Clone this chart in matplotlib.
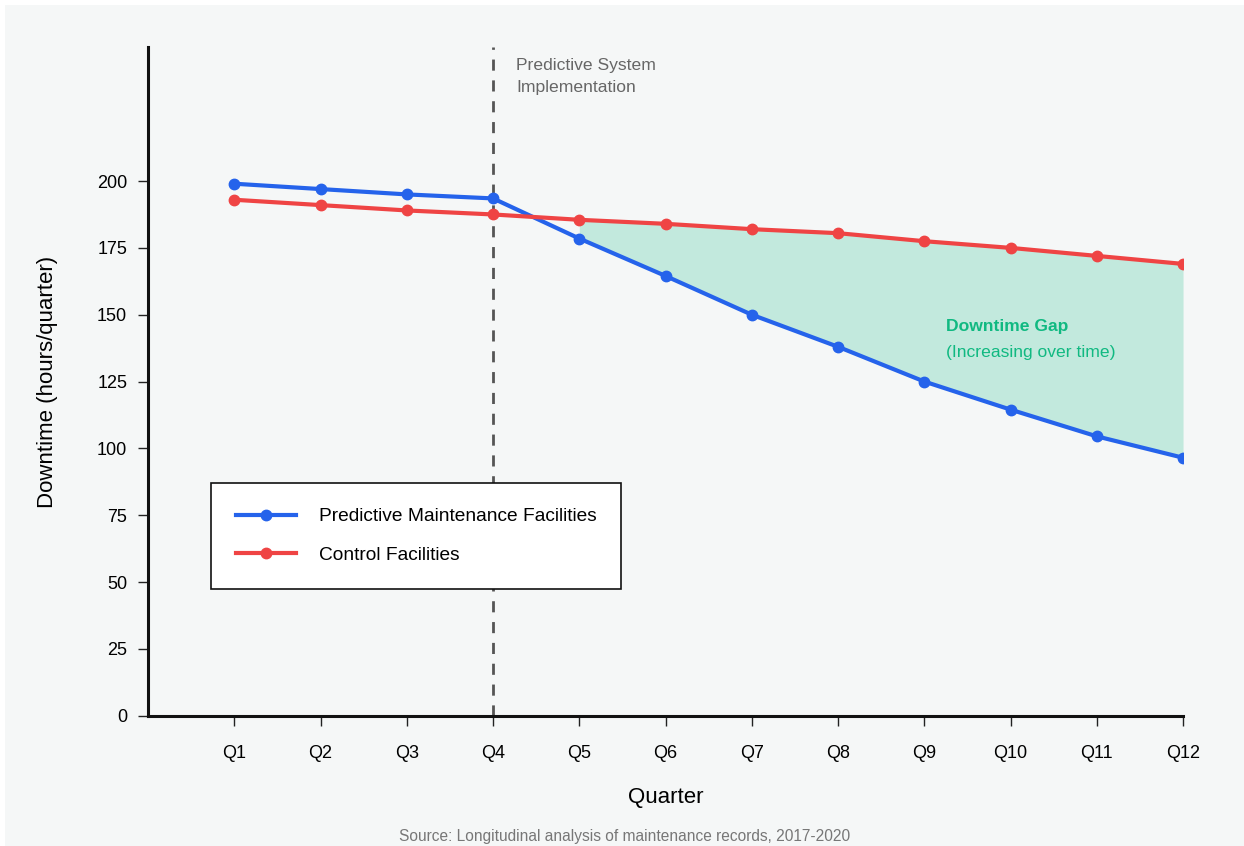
import matplotlib.pyplot as plt
from matplotlib.patches import Rectangle
import numpy as np

plt.rcParams['font.family'] = ['Liberation Sans', 'DejaVu Sans']

# quarterly downtime, hours per quarter
quarters = ['Q1', 'Q2', 'Q3', 'Q4', 'Q5', 'Q6', 'Q7', 'Q8', 'Q9', 'Q10', 'Q11', 'Q12']
predictive = [199, 197, 195, 193.5, 178.5, 164.5, 150, 138, 125, 114.5, 104.5, 96.5]
control = [193, 191, 189, 187.5, 185.5, 184, 182, 180.5, 177.5, 175, 172, 169]
implementation_quarter = 4

blue = '#2563eb'
red = '#ef4444'
green = '#10b981'
bg = '#f5f7f7'

x = np.arange(1, len(quarters) + 1)

fig = plt.figure(figsize=(12.44, 8.46), dpi=100, facecolor='white')
# panel background, inset a few pixels from the top-left edge
fig.patches.append(Rectangle((5 / 1244, 0), 1, 1 - 5 / 846, transform=fig.transFigure,
                             facecolor=bg, edgecolor='none', zorder=-10))

ax = fig.add_axes([0.119, 0.154, 0.832, 0.79])
ax.set_facecolor(bg)

# gap between the two groups after implementation
after = x >= implementation_quarter + 1
ax.fill_between(x[after], np.array(predictive)[after], np.array(control)[after],
                color=green, alpha=0.22, linewidth=0)

ax.plot(x, predictive, color=blue, lw=3, marker='o', ms=7.5,
        label='Predictive Maintenance Facilities', zorder=3)
ax.plot(x, control, color=red, lw=3, marker='o', ms=7.5,
        label='Control Facilities', zorder=3)

ax.axvline(implementation_quarter, color='#555555', lw=2, ls=(0, (4, 3.5)), zorder=2)
ax.text(implementation_quarter + 0.27, 246, 'Predictive System\nImplementation',
        fontsize=12.6, color='#666666', va='top', ha='left', linespacing=1.55)

ax.text(9.25, 145.5, 'Downtime Gap', fontsize=12.6, fontweight='bold', color=green,
        ha='left', va='center')
ax.text(9.25, 136, '(Increasing over time)', fontsize=12.6, color=green,
        ha='left', va='center')

ax.set_xlim(0, 12)
ax.set_ylim(0, 250)
ax.set_xticks(x)
ax.set_xticklabels(quarters)
ax.set_yticks(np.arange(0, 201, 25))
ax.tick_params(axis='both', labelsize=13, color='#222222', length=7, width=1)
ax.tick_params(axis='x', pad=14)
ax.tick_params(axis='y', pad=8)

for side in ['top', 'right']:
    ax.spines[side].set_visible(False)
for side in ['left', 'bottom']:
    ax.spines[side].set_linewidth(2.2)
    ax.spines[side].set_color('#111111')

ax.set_xlabel('Quarter', fontsize=16, labelpad=18)
ax.set_ylabel('Downtime (hours/quarter)', fontsize=16, labelpad=28)

leg = ax.legend(loc='lower left', bbox_to_anchor=(0.061, 0.19), borderaxespad=0,
                fontsize=13.8, frameon=True, fancybox=False, edgecolor='#111111',
                facecolor='white', framealpha=1, borderpad=1.3, handlelength=3.1,
                labelspacing=1.1, handletextpad=1.2)
leg.get_frame().set_linewidth(1.2)

fig.text(0.502, 0.011, 'Source: Longitudinal analysis of maintenance records, 2017-2020',
         fontsize=11.2, color='#777777', ha='center', va='center')

fig.savefig('out.png', dpi=100, facecolor='white')
